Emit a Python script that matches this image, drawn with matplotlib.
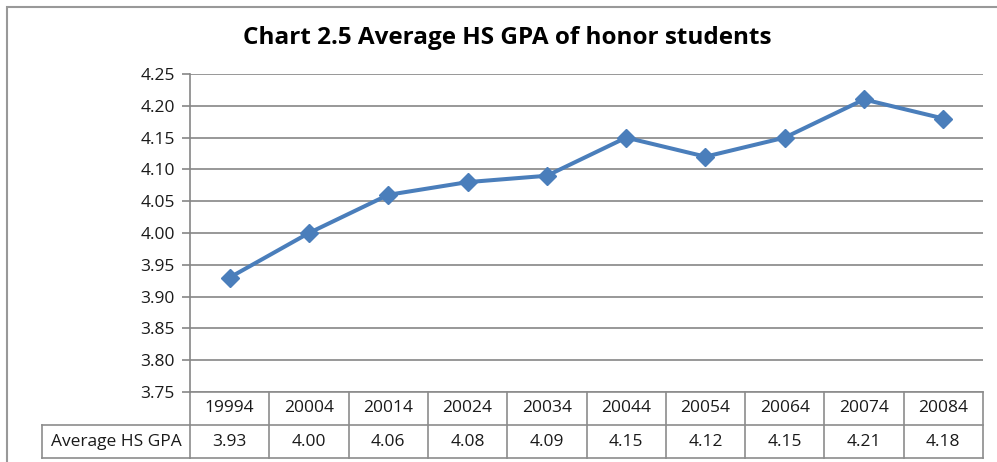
import matplotlib.pyplot as plt
import matplotlib.transforms as mtransforms
from matplotlib.patches import Rectangle

plt.rcParams['font.family'] = ['Open Sans', 'DejaVu Sans']

years = ['19994', '20004', '20014', '20024', '20034', '20044', '20054', '20064', '20074', '20084']
gpa = [3.93, 4.00, 4.06, 4.08, 4.09, 4.15, 4.12, 4.15, 4.21, 4.18]
series_name = 'Average HS GPA'
title = 'Chart 2.5 Average HS GPA of honor students'
yticks = [3.75, 3.80, 3.85, 3.90, 3.95, 4.00, 4.05, 4.10, 4.15, 4.20, 4.25]

W, H = 997, 462
fig = plt.figure(figsize=(W / 100, H / 100), dpi=100)
ax = fig.add_axes([190 / W, (H - 392) / H, (983 - 190) / W, (392 - 74) / H])

grid_c = '#868686'
line_c = '#4A7EBB'
txt_c = '#1a1a1a'
fs = 12.5

x = list(range(len(years)))
ax.plot(x, gpa, color=line_c, linewidth=2.9, marker='D', markersize=9, zorder=3)

ax.set_xlim(-0.5, len(years) - 0.5)
ax.set_ylim(3.75, 4.25)
ax.set_yticks(yticks)
ax.set_yticklabels([f'{v:.2f}' for v in yticks], fontsize=fs, color=txt_c)
ax.set_xticks([])
ax.yaxis.grid(True, color=grid_c, linewidth=1.2)
ax.set_axisbelow(True)
for s in ['top', 'right', 'bottom']:
    ax.spines[s].set_visible(False)
ax.spines['left'].set_color(grid_c)
ax.spines['left'].set_linewidth(1.2)
ax.tick_params(axis='y', length=6, width=1.2, color=grid_c, pad=5)

fig.text(507 / W, 1 - 38 / H, title, fontsize=17.5, fontweight='bold', ha='center', va='center')

# data table below the plot
trans = mtransforms.blended_transform_factory(ax.transData, ax.transAxes)
row_h = 33 / 318
tcol = '#8c8c8c'
lbl_left = (42 - 190) / (983 - 190)
n = len(years)

def hline(x0, x1, y, tr):
    ax.plot([x0, x1], [y, y], color=tcol, lw=1.2, transform=tr, clip_on=False)

def vline(xv, y0, y1, tr):
    ax.plot([xv, xv], [y0, y1], color=tcol, lw=1.2, transform=tr, clip_on=False)

hline(-0.5, n - 0.5, 0, trans)
hline(-0.5, n - 0.5, -row_h, trans)
hline(-0.5, n - 0.5, -2 * row_h, trans)
hline(lbl_left, 0, -row_h, ax.transAxes)
hline(lbl_left, 0, -2 * row_h, ax.transAxes)
vline(lbl_left, -row_h, -2 * row_h, ax.transAxes)
for i in range(n + 1):
    vline(i - 0.5, 0, -2 * row_h, trans)

for i, (yr, v) in enumerate(zip(years, gpa)):
    ax.text(i, -row_h / 2, yr, transform=trans, ha='center', va='center', fontsize=fs, color=txt_c)
    ax.text(i, -1.5 * row_h, f'{v:.2f}', transform=trans, ha='center', va='center', fontsize=fs, color=txt_c)
ax.text(lbl_left / 2, -1.5 * row_h, series_name, transform=ax.transAxes, ha='center', va='center',
        fontsize=fs, color=txt_c)

# outer chart border (cropped at right and bottom)
fig.patches.append(Rectangle((7 / W, -0.1), 1.2, 1 - 7 / H + 0.1, transform=fig.transFigure,
                             fill=False, edgecolor='#999999', linewidth=1.5))

fig.savefig('out.png', dpi=100)
